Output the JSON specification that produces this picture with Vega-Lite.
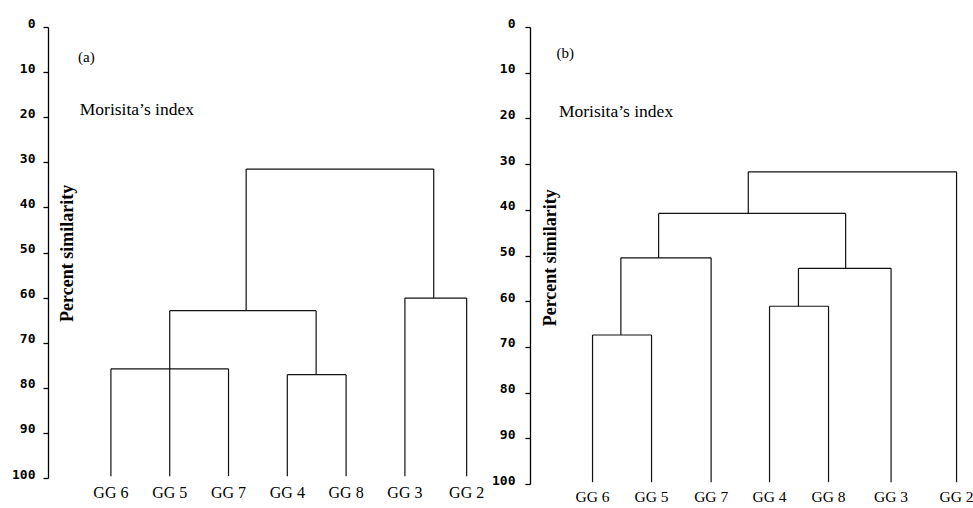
{
  "$schema": "https://vega.github.io/schema/vega-lite/v6.json",
  "background": "white",
  "padding": {"left": 5, "top": 17, "right": 0, "bottom": 0},
  "spacing": 2,
  "config": {
    "view": {"stroke": null},
    "axis": {"grid": false},
    "text": {"color": "#000"}
  },
  "hconcat": [
    {
      "width": 431,
      "height": 451,
      "layer": [
        {
          "data": {"values": [
            {"x": 1, "y": 99.6, "x2": 1, "y2": 75.8},
            {"x": 3, "y": 99.6, "x2": 3, "y2": 75.8},
            {"x": 1, "y": 75.8, "x2": 3, "y2": 75.8},
            {"x": 2, "y": 99.6, "x2": 2, "y2": 62.9},
            {"x": 4, "y": 99.6, "x2": 4, "y2": 77.1},
            {"x": 5, "y": 99.6, "x2": 5, "y2": 77.1},
            {"x": 4, "y": 77.1, "x2": 5, "y2": 77.1},
            {"x": 4.49, "y": 77.1, "x2": 4.49, "y2": 62.9},
            {"x": 2, "y": 62.9, "x2": 4.49, "y2": 62.9},
            {"x": 3.3, "y": 62.9, "x2": 3.3, "y2": 31.5},
            {"x": 6, "y": 99.6, "x2": 6, "y2": 60.1},
            {"x": 7.05, "y": 99.6, "x2": 7.05, "y2": 60.1},
            {"x": 6, "y": 60.1, "x2": 7.05, "y2": 60.1},
            {"x": 6.49, "y": 60.1, "x2": 6.49, "y2": 31.5},
            {"x": 3.3, "y": 31.5, "x2": 6.49, "y2": 31.5}
          ]},
          "mark": {"type": "rule", "color": "#111", "strokeWidth": 1.2},
          "encoding": {
            "x": {"field": "x", "type": "quantitative", "scale": {"domain": [-0.07, 7.26], "nice": false, "zero": false}, "axis": null},
            "x2": {"field": "x2"},
            "y": {"field": "y", "type": "quantitative",
                  "scale": {"domain": [0, 100], "reverse": true, "nice": false, "zero": false},
                  "axis": {"values": [0, 10, 20, 30, 40, 50, 60, 70, 80, 90, 100], "title": null, "tickSize": 5, "labelPadding": 8,
                           "labelFont": "DejaVu Sans Mono", "labelFontWeight": "bold", "labelFontSize": 13, "labelColor": "#000",
                           "domainColor": "#000", "domainWidth": 1.3, "tickColor": "#000", "tickWidth": 1.3, "minExtent": 43,
                           "labelBaseline": "alphabetic", "labelFlush": false, "labelOverlap": false}},
            "y2": {"field": "y2"}
          }
        },
        {
          "data": {"values": [
            {"name": "GG 6", "x": 1}, {"name": "GG 5", "x": 2}, {"name": "GG 7", "x": 3},
            {"name": "GG 4", "x": 4}, {"name": "GG 8", "x": 5}, {"name": "GG 3", "x": 6}, {"name": "GG 2", "x": 7.05}
          ]},
          "mark": {"type": "text", "font": "Liberation Serif", "fontSize": 16, "align": "center", "baseline": "middle"},
          "encoding": {
            "x": {"field": "x", "type": "quantitative"},
            "y": {"datum": 103.3},
            "text": {"field": "name"}
          }
        },
        {
          "data": {"values": [{"label": "(a)"}]},
          "mark": {"type": "text", "font": "Liberation Serif", "fontSize": 15, "align": "left", "baseline": "middle"},
          "encoding": {"x": {"datum": 0.44}, "y": {"datum": 6.7}, "text": {"field": "label"}}
        },
        {
          "data": {"values": [{"label": "Morisita’s index"}]},
          "mark": {"type": "text", "font": "Liberation Serif", "fontSize": 17.5, "align": "left", "baseline": "middle"},
          "encoding": {"x": {"datum": 0.47}, "y": {"datum": 18.5}, "text": {"field": "label"}}
        },
        {
          "data": {"values": [{"label": "Percent similarity"}]},
          "mark": {"type": "text", "font": "Liberation Serif", "fontWeight": "bold", "fontSize": 18, "angle": 270, "align": "center", "baseline": "middle"},
          "encoding": {"x": {"datum": 0.27}, "y": {"datum": 50.2}, "text": {"field": "label"}}
        }
      ]
    },
    {
      "width": 436,
      "height": 457,
      "layer": [
        {
          "data": {"values": [
            {"x": 1, "y": 99.6, "x2": 1, "y2": 67.4},
            {"x": 2, "y": 99.6, "x2": 2, "y2": 67.4},
            {"x": 1, "y": 67.4, "x2": 2, "y2": 67.4},
            {"x": 1.48, "y": 67.4, "x2": 1.48, "y2": 50.5},
            {"x": 3.01, "y": 99.6, "x2": 3.01, "y2": 50.5},
            {"x": 1.48, "y": 50.5, "x2": 3.01, "y2": 50.5},
            {"x": 2.12, "y": 50.5, "x2": 2.12, "y2": 40.8},
            {"x": 4, "y": 99.6, "x2": 4, "y2": 61.1},
            {"x": 5, "y": 99.6, "x2": 5, "y2": 61.1},
            {"x": 4, "y": 61.1, "x2": 5, "y2": 61.1},
            {"x": 4.49, "y": 61.1, "x2": 4.49, "y2": 52.8},
            {"x": 6.06, "y": 99.6, "x2": 6.06, "y2": 52.8},
            {"x": 4.49, "y": 52.8, "x2": 6.06, "y2": 52.8},
            {"x": 5.29, "y": 52.8, "x2": 5.29, "y2": 40.8},
            {"x": 2.12, "y": 40.8, "x2": 5.29, "y2": 40.8},
            {"x": 3.64, "y": 40.8, "x2": 3.64, "y2": 31.7},
            {"x": 7.17, "y": 99.6, "x2": 7.17, "y2": 31.7},
            {"x": 3.64, "y": 31.7, "x2": 7.17, "y2": 31.7}
          ]},
          "mark": {"type": "rule", "color": "#111", "strokeWidth": 1.2},
          "encoding": {
            "x": {"field": "x", "type": "quantitative", "scale": {"domain": [-0.06, 7.33], "nice": false, "zero": false}, "axis": null},
            "x2": {"field": "x2"},
            "y": {"field": "y", "type": "quantitative",
                  "scale": {"domain": [0, 100], "reverse": true, "nice": false, "zero": false},
                  "axis": {"values": [0, 10, 20, 30, 40, 50, 60, 70, 80, 90, 100], "title": null, "tickSize": 5, "labelPadding": 10,
                           "labelFont": "DejaVu Sans Mono", "labelFontWeight": "bold", "labelFontSize": 13, "labelColor": "#000",
                           "domainColor": "#000", "domainWidth": 1.3, "tickColor": "#000", "tickWidth": 1.3, "minExtent": 43,
                           "labelBaseline": "alphabetic", "labelFlush": false, "labelOverlap": false}},
            "y2": {"field": "y2"}
          }
        },
        {
          "data": {"values": [
            {"name": "GG 6", "x": 1}, {"name": "GG 5", "x": 2}, {"name": "GG 7", "x": 3.01},
            {"name": "GG 4", "x": 4}, {"name": "GG 8", "x": 5}, {"name": "GG 3", "x": 6.06}, {"name": "GG 2", "x": 7.17}
          ]},
          "mark": {"type": "text", "font": "Liberation Serif", "fontSize": 15.5, "align": "center", "baseline": "middle"},
          "encoding": {
            "x": {"field": "x", "type": "quantitative"},
            "y": {"datum": 102.9},
            "text": {"field": "name"}
          }
        },
        {
          "data": {"values": [{"label": "(b)"}]},
          "mark": {"type": "text", "font": "Liberation Serif", "fontSize": 15, "align": "left", "baseline": "middle"},
          "encoding": {"x": {"datum": 0.39}, "y": {"datum": 5.7}, "text": {"field": "label"}}
        },
        {
          "data": {"values": [{"label": "Morisita’s index"}]},
          "mark": {"type": "text", "font": "Liberation Serif", "fontSize": 17.5, "align": "left", "baseline": "middle"},
          "encoding": {"x": {"datum": 0.43}, "y": {"datum": 18.6}, "text": {"field": "label"}}
        },
        {
          "data": {"values": [{"label": "Percent similarity"}]},
          "mark": {"type": "text", "font": "Liberation Serif", "fontWeight": "bold", "fontSize": 18, "angle": 270, "align": "center", "baseline": "middle"},
          "encoding": {"x": {"datum": 0.29}, "y": {"datum": 50.5}, "text": {"field": "label"}}
        }
      ]
    }
  ]
}
